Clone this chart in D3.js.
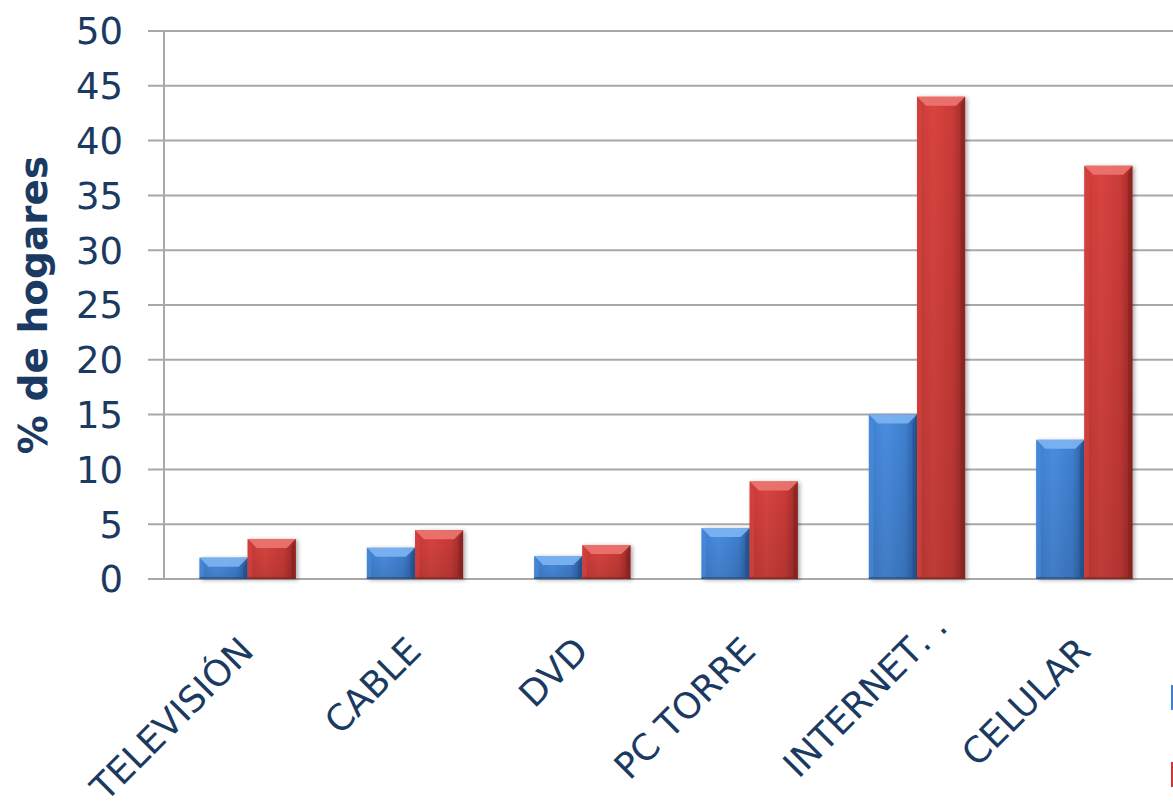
<!DOCTYPE html>
<html>
<head>
<meta charset="utf-8">
<script src="https://cdn.jsdelivr.net/npm/d3@7/dist/d3.min.js"></script>
<style>
  html, body { margin: 0; padding: 0; background: #ffffff; }
  svg { display: block; }
</style>
</head>
<body>
<svg id="chart" width="1173" height="808"></svg>
<script>
// Household equipment, % de hogares, two series per category
const categories = ["TELEVISIÓN", "CABLE", "DVD", "PC TORRE", "INTERNET", "CELULAR"];
// trailing marks drawn after a shortened category name
const labelSuffix = ["", "", "", "", " . .", ""];
const seriesA = [1.95, 2.85, 2.1, 4.65, 15.0, 12.7];
const seriesB = [3.65, 4.45, 3.1, 8.9, 44.0, 37.7];
const yTicks = [0, 5, 10, 15, 20, 25, 30, 35, 40, 45, 50];

const W = 1173, H = 808;
const plot = { left: 164, right: 1168, top: 31, bottom: 579 };
const textColor = "#1b3a62";
const gridColor = "#a8a8a8";

const svg = d3.select("#chart");
const defs = svg.append("defs");

const x0 = d3.scaleBand().domain(categories).range([plot.left, plot.right]).paddingInner(0.425).paddingOuter(0.2125);
const x1 = d3.scaleBand().domain(["a", "b"]).range([0, x0.bandwidth()]);
const y = d3.scaleLinear().domain([0, 50]).range([plot.bottom, plot.top]);

// bar colour palettes: body gradient stops, bevel tones
const palettes = {
  a: { dark: "#2b5c9e", mid: "#3f80d0", light: "#4a8de0", top: "#7db4f2", edge: "#234d86" },
  b: { dark: "#9a2927", mid: "#c93a37", light: "#d8443f", top: "#ec7570", edge: "#84211f" }
};

Object.entries(palettes).forEach(([k, p]) => {
  const g = defs.append("linearGradient").attr("id", "grad-" + k)
    .attr("x1", "0").attr("y1", "0").attr("x2", "1").attr("y2", "0");
  g.append("stop").attr("offset", "0%").attr("stop-color", p.mid);
  g.append("stop").attr("offset", "35%").attr("stop-color", p.light);
  g.append("stop").attr("offset", "75%").attr("stop-color", p.mid);
  g.append("stop").attr("offset", "100%").attr("stop-color", p.dark);
  const v = defs.append("linearGradient").attr("id", "shade-" + k)
    .attr("x1", "0").attr("y1", "0").attr("x2", "0").attr("y2", "1");
  v.append("stop").attr("offset", "0%").attr("stop-color", "#000").attr("stop-opacity", 0);
  v.append("stop").attr("offset", "100%").attr("stop-color", "#000").attr("stop-opacity", 0.12);
});

const shadow = defs.append("filter").attr("id", "shadow")
  .attr("x", "-20%").attr("y", "-10%").attr("width", "150%").attr("height", "130%");
shadow.append("feDropShadow").attr("dx", 2).attr("dy", 1).attr("stdDeviation", 2)
  .attr("flood-color", "#000").attr("flood-opacity", 0.35);

// gridlines with short ticks left of the axis
svg.append("g").selectAll("line").data(yTicks).join("line")
  .attr("x1", plot.left - 16).attr("x2", W)
  .attr("y1", d => y(d)).attr("y2", d => y(d))
  .attr("stroke", gridColor).attr("stroke-width", 2);

// vertical axis line
svg.append("line")
  .attr("x1", plot.left).attr("x2", plot.left)
  .attr("y1", y(50)).attr("y2", y(0))
  .attr("stroke", gridColor).attr("stroke-width", 2);

// y tick labels
svg.append("g").selectAll("text").data(yTicks).join("text")
  .attr("x", 123).attr("y", d => y(d))
  .attr("dy", "0.36em")
  .attr("text-anchor", "end")
  .attr("font-family", "DejaVu Sans, Verdana, sans-serif")
  .attr("font-size", 37)
  .attr("fill", textColor)
  .text(d => d);

// y axis title
svg.append("text")
  .attr("transform", `translate(47, ${y(25)}) rotate(-90)`)
  .attr("text-anchor", "middle")
  .attr("font-family", "DejaVu Sans, Verdana, sans-serif")
  .attr("font-weight", "bold")
  .attr("font-size", 39)
  .attr("fill", textColor)
  .text("% de hogares");

// bars
const rows = categories.map((c, i) => ({ c, a: seriesA[i], b: seriesB[i] }));
const groups = svg.append("g").selectAll("g").data(rows).join("g")
  .attr("transform", d => `translate(${x0(d.c)},0)`);

const bars = groups.selectAll("g.bar")
  .data(d => ["a", "b"].map(k => ({ k, v: d[k] })))
  .join("g").attr("class", "bar");

bars.each(function (d) {
  const g = d3.select(this);
  const p = palettes[d.k];
  const bx = x1(d.k), bw = x1.bandwidth();
  const by = y(d.v), bh = y(0) - y(d.v);
  const bev = Math.min(9, bh / 2);
  g.append("rect")
    .attr("x", bx).attr("y", by).attr("width", bw).attr("height", bh)
    .attr("fill", `url(#grad-${d.k})`)
    .attr("filter", "url(#shadow)");
  g.append("rect")
    .attr("x", bx).attr("y", by).attr("width", bw).attr("height", bh)
    .attr("fill", `url(#shade-${d.k})`);
  // top bevel
  g.append("polygon")
    .attr("points", [[bx, by], [bx + bw, by], [bx + bw - bev, by + bev], [bx + bev, by + bev]].map(q => q.join(",")).join(" "))
    .attr("fill", p.top).attr("opacity", 0.9);
  // left bevel
  g.append("polygon")
    .attr("points", [[bx, by], [bx + bev * 0.5, by + bev], [bx + bev * 0.5, by + bh - bev * 0.3], [bx, by + bh]].map(q => q.join(",")).join(" "))
    .attr("fill", p.light).attr("opacity", 0.6);
  // right bevel
  g.append("polygon")
    .attr("points", [[bx + bw, by], [bx + bw - bev * 0.5, by + bev], [bx + bw - bev * 0.5, by + bh - bev * 0.3], [bx + bw, by + bh]].map(q => q.join(",")).join(" "))
    .attr("fill", p.edge).attr("opacity", 0.55);
  // bottom edge
  g.append("rect")
    .attr("x", bx).attr("y", by + bh - 2).attr("width", bw).attr("height", 2)
    .attr("fill", p.edge).attr("opacity", 0.6);
});

// category labels, rotated, ending just right of each group centre
const labelAnchor = d => `translate(${x0(d) + x0.bandwidth() / 2 + 8}, 653) rotate(-45)`;
const labels = svg.append("g")
  .attr("font-family", "DejaVu Sans, Verdana, sans-serif")
  .attr("font-size", 36)
  .attr("fill", textColor);
labels.selectAll("text.name").data(categories).join("text")
  .attr("class", "name")
  .attr("transform", labelAnchor)
  .attr("text-anchor", "end")
  .text(d => d);
labels.selectAll("text.suffix").data(categories.filter((d, i) => labelSuffix[i]))
  .join("text")
  .attr("class", "suffix")
  .attr("transform", labelAnchor)
  .attr("text-anchor", "start")
  .text(d => labelSuffix[categories.indexOf(d)]);

// legend keys at the right margin
const legendKeys = [{ k: "a", y0: 685 }, { k: "b", y0: 762 }];
svg.append("g").selectAll("rect").data(legendKeys).join("rect")
  .attr("x", 1171).attr("y", d => d.y0).attr("width", 10).attr("height", 25)
  .attr("fill", d => palettes[d.k].mid);
</script>
</body>
</html>
